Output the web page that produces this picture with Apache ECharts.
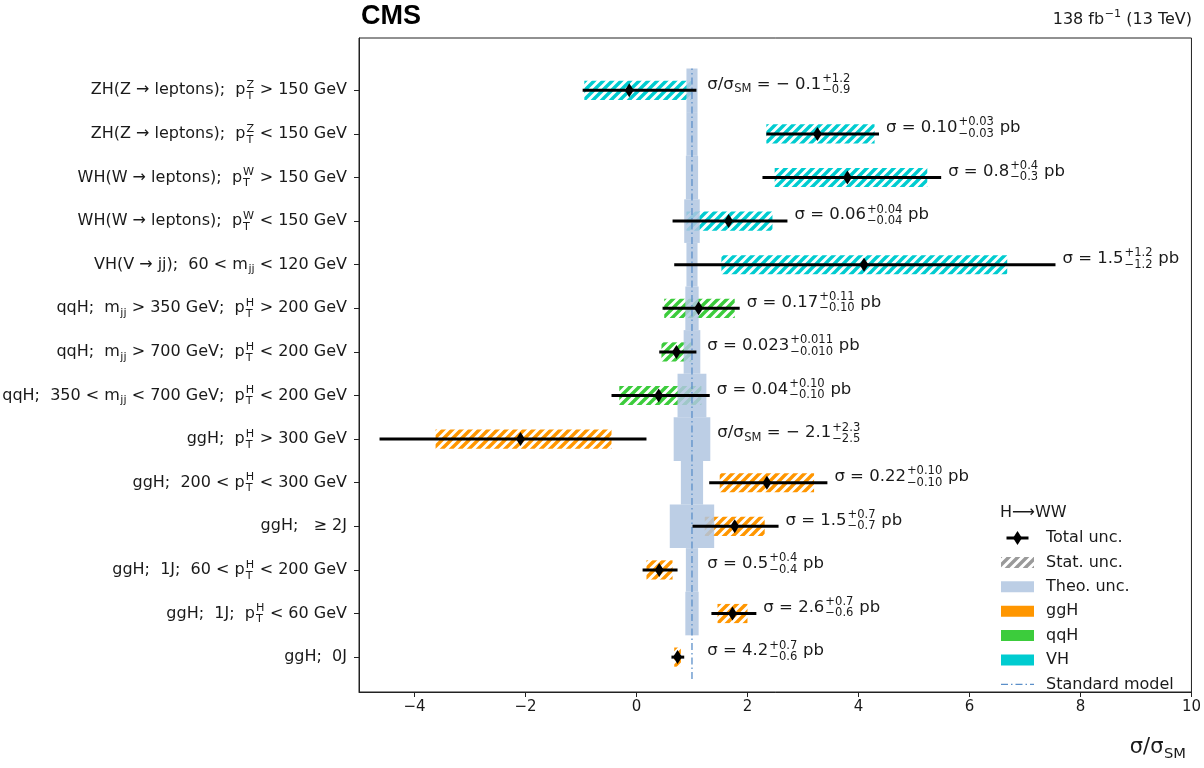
<!DOCTYPE html>
<html><head><meta charset="utf-8">
<script src="https://cdn.jsdelivr.net/npm/echarts@6/dist/echarts.min.js"></script>
<style>html,body{margin:0;padding:0;background:#fff}#c{width:1204px;height:768px}</style>
</head><body><div id="c"></div>
<script>
// ---------------- data (row 0 = bottom) ----------------
const categories = [
  'ggH;  0J',
  'ggH;  1J;  p_{T}^{H} < 60 GeV',
  'ggH;  1J;  60 < p_{T}^{H} < 200 GeV',
  'ggH;   ≥ 2J',
  'ggH;  200 < p_{T}^{H} < 300 GeV',
  'ggH;  p_{T}^{H} > 300 GeV',
  'qqH;  350 < m_{jj} < 700 GeV;  p_{T}^{H} < 200 GeV',
  'qqH;  m_{jj} > 700 GeV;  p_{T}^{H} < 200 GeV',
  'qqH;  m_{jj} > 350 GeV;  p_{T}^{H} > 200 GeV',
  'VH(V → jj);  60 < m_{jj} < 120 GeV',
  'WH(W → leptons);  p_{T}^{W} < 150 GeV',
  'WH(W → leptons);  p_{T}^{W} > 150 GeV',
  'ZH(Z → leptons);  p_{T}^{Z} < 150 GeV',
  'ZH(Z → leptons);  p_{T}^{Z} > 150 GeV'
];
const modes   = ['ggH','ggH','ggH','ggH','ggH','ggH','qqH','qqH','qqH','VH','VH','VH','VH','VH'];
const central = [0.74, 1.73, 0.41, 1.77, 2.35, -2.09, 0.40, 0.72, 1.12, 4.10, 1.66, 3.80, 3.26, -0.13];
const totLo   = [0.63, 1.35, 0.11, 1.01, 1.31, -4.63, -0.45, 0.41, 0.47, 0.68, 0.65, 2.27, 2.34, -0.97];
const totHi   = [0.86, 2.16, 0.74, 2.56, 3.44, 0.18, 1.32, 1.08, 1.86, 7.55, 2.72, 5.49, 4.37, 1.08];
const statLo  = [0.68, 1.46, 0.18, 1.23, 1.50, -3.62, -0.31, 0.45, 0.50, 1.53, 0.90, 2.49, 2.34, -0.94];
const statHi  = [0.80, 2.00, 0.65, 2.31, 3.20, -0.45, 1.17, 0.99, 1.77, 6.68, 2.45, 5.24, 4.29, 0.99];
const theoUnc = [0.00, 0.12, 0.11, 0.40, 0.20, 0.33, 0.26, 0.15, 0.12, 0.10, 0.14, 0.11, 0.10, 0.10];
const resultKind  = ['xs','xs','xs','xs','xs','ratio','xs','xs','xs','xs','xs','xs','xs','ratio'];
const resultValue = ['4.2','2.6','0.5','1.5','0.22','− 2.1','0.04','0.023','0.17','1.5','0.06','0.8','0.10','− 0.1'];
const resultUp    = ['+0.7','+0.7','+0.4','+0.7','+0.10','+2.3','+0.10','+0.011','+0.11','+1.2','+0.04','+0.4','+0.03','+1.2'];
const resultDown  = ['−0.6','−0.6','−0.4','−0.7','−0.10','−2.5','−0.10','−0.010','−0.10','−1.2','−0.04','−0.3','−0.03','−0.9'];
const xTicks = [-4, -2, 0, 2, 4, 6, 8, 10];
const smValue = 1;
const legendItems = ['Total unc.', 'Stat. unc.', 'Theo. unc.', 'ggH', 'qqH', 'VH', 'Standard model'];

// ---------------- styles ----------------
const FONT = '"DejaVu Sans"';
const TXT = '#1a1a1a';
const modeColor = {ggH:'#ff9600', qqH:'#3ccc3c', VH:'#00ccd0'};
const theoColor = 'rgba(176,198,224,0.85)';
const smColor = '#5b8fc9';

const mctx = document.createElement('canvas').getContext('2d');
function measure(t, size){ mctx.font = 'normal normal ' + size + 'px ' + FONT; return mctx.measureText(t).width; }

function hatch(color){
  const P = 9, c = document.createElement('canvas'); c.width = P; c.height = P;
  const g = c.getContext('2d'); g.strokeStyle = color; g.lineWidth = 3.4;
  g.beginPath();
  g.moveTo(-P, P); g.lineTo(P, -P);
  g.moveTo(0, P); g.lineTo(P, 0);
  g.moveTo(0, 2*P); g.lineTo(2*P, 0);
  g.stroke();
  return {image: c, repeat: 'repeat'};
}
const hatchFill = {ggH: hatch(modeColor.ggH), qqH: hatch(modeColor.qqH), VH: hatch(modeColor.VH), stat: hatch('#9a9a9a')};

function parseMarkup(s){
  const out = []; let buf = ''; let i = 0;
  while (i < s.length){
    const c = s[i];
    if ((c === '_' || c === '^') && s[i+1] === '{'){
      const j = s.indexOf('}', i+2);
      const content = s.slice(i+2, j);
      const key = c === '_' ? 'sub' : 'sup';
      if (buf){ out.push({t: buf}); buf = ''; }
      const last = out[out.length-1];
      if (last && last.script && last[key] === undefined) last[key] = content;
      else { const o = {script: true}; o[key] = content; out.push(o); }
      i = j + 1;
    } else { buf += c; i++; }
  }
  if (buf) out.push({t: buf});
  return out;
}
function layout(s, size){
  const segs = parseMarkup(s); const els = []; let x = 0; const ss = size * 0.7;
  for (const g of segs){
    if (g.t !== undefined){ els.push({text: g.t, x, dy: 0, size}); x += measure(g.t, size); }
    else if (g.sup !== undefined && g.sub !== undefined){
      els.push({text: g.sup, x: x+1, dy: -size*0.33, size: ss});
      els.push({text: g.sub, x: x+1, dy: size*0.36, size: ss});
      x += Math.max(measure(g.sup, ss), measure(g.sub, ss)) + 1.5;
    } else if (g.sup !== undefined){
      els.push({text: g.sup, x: x+0.5, dy: -size*0.36, size: ss}); x += measure(g.sup, ss) + 0.5;
    } else {
      els.push({text: g.sub, x: x+0.5, dy: size*0.3, size: ss}); x += measure(g.sub, ss) + 0.5;
    }
  }
  return {els, width: x};
}
function composeText(markup, x, y, size, align, color, family){
  const L = layout(markup, size);
  const x0 = align === 'right' ? x - L.width : x;
  return L.els.map(e => ({type: 'text', x: x0 + e.x, y: y + e.dy, silent: true,
    style: {text: e.text, fontSize: e.size, fontFamily: family || FONT, fill: color || TXT, verticalAlign: 'middle', align: 'left'}}));
}
function resultMarkup(i){
  const s = '^{' + resultUp[i] + '}_{' + resultDown[i] + '}';
  return resultKind[i] === 'ratio' ? 'σ/σ_{SM} = ' + resultValue[i] + s : 'σ = ' + resultValue[i] + s + ' pb';
}

const rows = categories.map((_, i) => i);
const markData = rows.map(i => [central[i], i, totLo[i], totHi[i], statLo[i], statHi[i], theoUnc[i]]);

// ---------------- legend & titles (graphic) ----------------
const LX = 1001, LW = 33, LT = 1046, LY0 = 538, LDY = 24.4;
const graphic = [];
graphic.push({type: 'text', x: 361, y: 17, silent: true, style: {text: 'CMS', font: 'bold 27px "Liberation Sans", Arial, sans-serif', fill: '#000', verticalAlign: 'middle'}});
graphic.push({type: 'group', children: composeText('138 fb^{−1} (13 TeV)', 1192, 20, 16, 'right')});
graphic.push({type: 'group', children: composeText('σ/σ_{SM}', 1186, 748, 21, 'right')});
graphic.push({type: 'text', x: 1000, y: 513, silent: true, style: {text: 'H⟶WW', fontSize: 16, fontFamily: FONT, fill: TXT, verticalAlign: 'middle'}});
legendItems.forEach((name, k) => {
  const y = LY0 + LDY * k;
  graphic.push({type: 'text', x: LT, y, silent: true, style: {text: name, fontSize: 16, fontFamily: FONT, fill: TXT, verticalAlign: 'middle'}});
  const cx = LX + LW / 2;
  if (k === 0){
    graphic.push({type: 'line', shape: {x1: cx - 11, y1: y, x2: cx + 11, y2: y}, style: {stroke: '#000', lineWidth: 3}});
    graphic.push({type: 'polygon', shape: {points: [[cx, y-7], [cx+4.5, y], [cx, y+7], [cx-4.5, y]]}, style: {fill: '#000'}});
  } else if (k === 1){
    graphic.push({type: 'rect', shape: {x: LX, y: y-5.5, width: LW, height: 11}, style: {fill: hatchFill.stat}});
  } else if (k === 2){
    graphic.push({type: 'rect', shape: {x: LX, y: y-5.5, width: LW, height: 11}, style: {fill: theoColor}});
  } else if (k <= 5){
    graphic.push({type: 'rect', shape: {x: LX, y: y-5.5, width: LW, height: 11}, style: {fill: modeColor[name]}});
  } else {
    graphic.push({type: 'line', shape: {x1: LX, y1: y, x2: LX + LW, y2: y}, style: {stroke: smColor, lineWidth: 1.3, lineDash: [7, 3, 1.5, 3]}});
  }
});

// ---------------- chart ----------------
const chart = echarts.init(document.getElementById('c'), null, {renderer: 'canvas'});
const fmtTick = v => (v < 0 ? '−' + Math.abs(v) : String(v));
chart.setOption({
  animation: false,
  backgroundColor: '#fff',
  grid: {left: 359, right: 11, top: 38, bottom: 76, show: true, borderColor: '#222', borderWidth: 1},
  xAxis: {
    type: 'value', min: -5, max: 10,
    axisLine: {show: true, onZero: false, lineStyle: {color: '#222', width: 1}},
    axisTick: {show: true, customValues: xTicks, length: 5, lineStyle: {color: '#222'}},
    axisLabel: {show: true, customValues: xTicks, formatter: fmtTick, fontSize: 15, fontFamily: FONT, color: TXT, margin: 8},
    splitLine: {show: false}
  },
  yAxis: {
    type: 'value', min: -0.8, max: 14.2,
    axisLine: {show: true, onZero: false, lineStyle: {color: '#222', width: 1}},
    axisTick: {show: true, customValues: rows, length: 5, lineStyle: {color: '#222'}},
    axisLabel: {show: false},
    splitLine: {show: false}
  },
  graphic: graphic,
  series: [
    { // statistical uncertainty (hatched)
      type: 'custom', name: 'Stat. unc.', z: 2, silent: true, data: markData,
      renderItem: (p, api) => {
        const r = api.value(1);
        const a = api.coord([api.value(4), r]), b = api.coord([api.value(5), r]);
        const h = api.size([0, 1])[1] * 0.44;
        return {type: 'rect', shape: {x: a[0], y: a[1] - h/2, width: b[0] - a[0], height: h}, style: {fill: hatchFill[modes[p.dataIndex]]}};
      }
    },
    { // theory uncertainty band around SM
      type: 'custom', name: 'Theo. unc.', z: 3, silent: true, data: markData,
      renderItem: (p, api) => {
        const r = api.value(1), t = api.value(6);
        if (!(t > 0)) return null;
        const a = api.coord([smValue - t, r + 0.5]), b = api.coord([smValue + t, r - 0.5]);
        return {type: 'rect', shape: {x: a[0], y: a[1], width: b[0] - a[0], height: b[1] - a[1]}, style: {fill: theoColor}};
      }
    },
    { // Standard model line
      type: 'line', name: 'Standard model', z: 4, silent: true, symbol: 'none',
      data: [[smValue, -0.5], [smValue, rows.length - 0.5]],
      lineStyle: {color: smColor, width: 1.3, type: [7, 3, 1.5, 3]}
    },
    { // total uncertainty + central value
      type: 'custom', name: 'Total unc.', z: 5, silent: true, data: markData,
      renderItem: (p, api) => {
        const r = api.value(1);
        const c = api.coord([api.value(0), r]);
        const a = api.coord([api.value(2), r]), b = api.coord([api.value(3), r]);
        return {type: 'group', children: [
          {type: 'line', shape: {x1: a[0], y1: a[1], x2: b[0], y2: b[1]}, style: {stroke: '#000', lineWidth: 3}},
          {type: 'polygon', shape: {points: [[c[0], c[1]-7], [c[0]+4.5, c[1]], [c[0], c[1]+7], [c[0]-4.5, c[1]]]}, style: {fill: '#000'}}
        ]};
      }
    },
    { // result annotations
      type: 'custom', name: 'results', z: 6, silent: true, data: markData,
      renderItem: (p, api) => {
        const i = p.dataIndex, r = api.value(1);
        const xv = Math.max(api.value(3), smValue + api.value(6), smValue + 0.15);
        const pt = api.coord([xv, r]);
        return {type: 'group', children: composeText(resultMarkup(i), pt[0] + 7, pt[1] - 6, 16.5, 'left')};
      }
    },
    { // category labels
      type: 'custom', name: 'labels', z: 6, silent: true, data: rows.map(i => [-5, i]),
      renderItem: (p, api) => {
        const pt = api.coord([api.value(0), api.value(1)]);
        return {type: 'group', children: composeText(categories[p.dataIndex], pt[0] - 12, pt[1], 16, 'right')};
      }
    }
  ]
});
</script>
</body></html>
